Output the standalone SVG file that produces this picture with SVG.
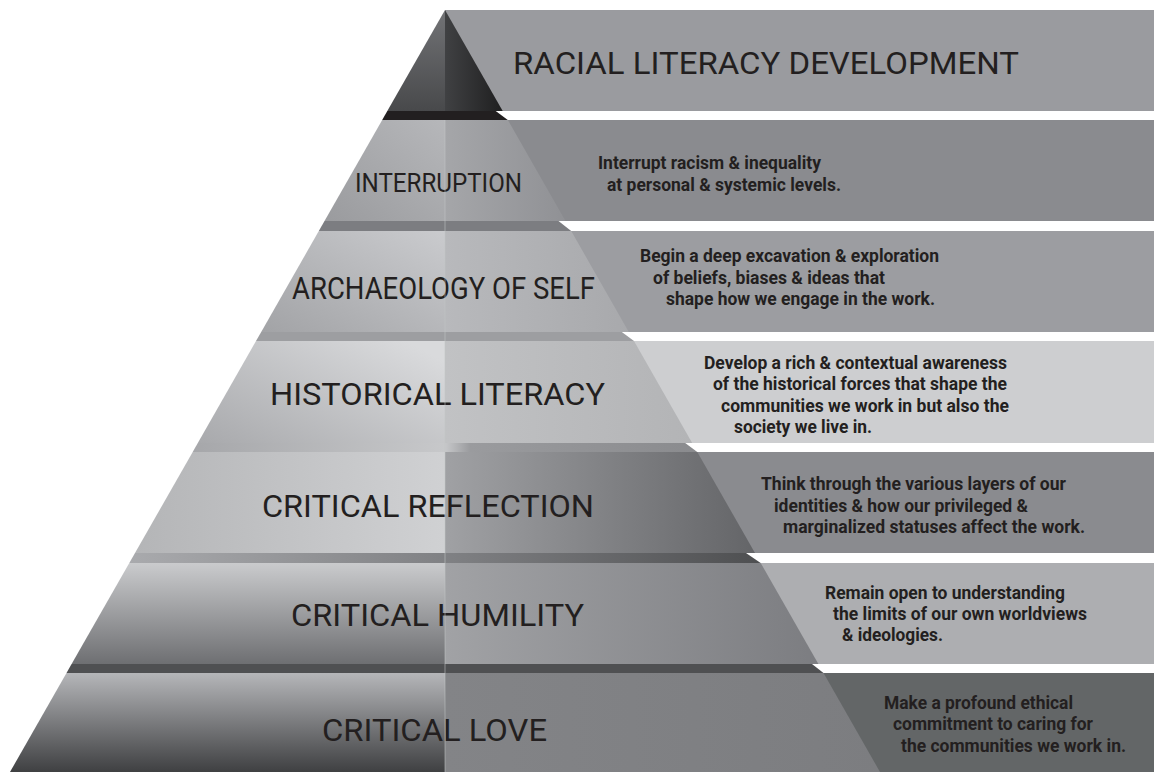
<svg xmlns="http://www.w3.org/2000/svg" width="1154" height="772" viewBox="0 0 1154 772">
<style>
.lbl{font-family:Roboto,"Liberation Sans",sans-serif;font-weight:400;fill:#231f20}
.dsc{font-family:Roboto,"Liberation Sans",sans-serif;font-weight:700;font-size:18px;fill:#231f20}
</style>
<defs>
<linearGradient id="tL" x1="0" y1="0" x2="0" y2="1"><stop offset="0" stop-color="#727376"/><stop offset="1" stop-color="#48494b"/></linearGradient>
<linearGradient id="tR" x1="0" y1="0" x2="1" y2="0"><stop offset="0" stop-color="#404143"/><stop offset="1" stop-color="#1f1f20"/></linearGradient>
<linearGradient id="b1L" x1="1" y1="0" x2="0" y2="1"><stop offset="0" stop-color="#b6b7ba"/><stop offset="1" stop-color="#9a9b9e"/></linearGradient>
<linearGradient id="b1R" x1="0" y1="0" x2="1" y2="0"><stop offset="0" stop-color="#a5a6a9"/><stop offset="1" stop-color="#909195"/></linearGradient>
<linearGradient id="b2L" x1="1" y1="0" x2="0" y2="1"><stop offset="0" stop-color="#cacbce"/><stop offset="1" stop-color="#a2a3a6"/></linearGradient>
<linearGradient id="b2R" x1="0" y1="0" x2="1" y2="0"><stop offset="0" stop-color="#b8b9bc"/><stop offset="1" stop-color="#a8a9ac"/></linearGradient>
<linearGradient id="b3L" x1="1" y1="0.2" x2="0" y2="1"><stop offset="0" stop-color="#d9dadc"/><stop offset="1" stop-color="#a8a9ac"/></linearGradient>
<linearGradient id="b3R" x1="0" y1="0" x2="1" y2="0"><stop offset="0" stop-color="#c1c2c4"/><stop offset="1" stop-color="#b3b4b6"/></linearGradient>
<linearGradient id="b4L" x1="1" y1="0" x2="0" y2="0"><stop offset="0" stop-color="#d0d1d3"/><stop offset="1" stop-color="#b4b5b7"/></linearGradient>
<linearGradient id="b4R" x1="0" y1="0" x2="1" y2="0"><stop offset="0" stop-color="#a0a1a4"/><stop offset="1" stop-color="#646568"/></linearGradient>
<linearGradient id="b5L" x1="0" y1="0" x2="0" y2="1"><stop offset="0" stop-color="#cacbcd"/><stop offset="1" stop-color="#6e6f72"/></linearGradient>
<linearGradient id="b5R" x1="0" y1="0" x2="1" y2="0"><stop offset="0" stop-color="#a1a2a5"/><stop offset="1" stop-color="#7c7d81"/></linearGradient>
<linearGradient id="b6L" x1="0" y1="0" x2="0" y2="1"><stop offset="0" stop-color="#b5b6b9"/><stop offset="1" stop-color="#3f4042"/></linearGradient>
<linearGradient id="b6R" x1="0" y1="0" x2="1" y2="0"><stop offset="0" stop-color="#838487"/><stop offset="1" stop-color="#7c7d80"/></linearGradient>
<linearGradient id="s4" x1="0" y1="0" x2="1" y2="0"><stop offset="0" stop-color="#a6a7aa"/><stop offset="0.5" stop-color="#c7c8ca"/><stop offset="0.55" stop-color="#9a9b9e"/><stop offset="1" stop-color="#8a8b8e"/></linearGradient>
<linearGradient id="s5" x1="0" y1="0" x2="1" y2="0"><stop offset="0" stop-color="#a9aaad"/><stop offset="0.5" stop-color="#808184"/><stop offset="1" stop-color="#4e4f51"/></linearGradient>
</defs>

<g id="title">
<rect x="445" y="10" width="709" height="101" fill="#9a9b9f"/>
<polygon points="445,10 445,111 387.3,111" fill="url(#tL)"/>
<polygon points="445,10 502.7,111 445,111" fill="url(#tR)"/>
<text class="lbl" x="513" y="74" font-size="31" textLength="506" lengthAdjust="spacingAndGlyphs">RACIAL LITERACY DEVELOPMENT</text>
</g>

<g id="interruption">
<rect x="445" y="120" width="709" height="101" fill="#8a8b8f"/>
<polygon points="387.3,111 495.7,111 507.8,120 382.2,120" fill="#221f20"/>
<polygon points="382.2,120 445,120 445,221 324.5,221" fill="url(#b1L)"/>
<polygon points="445,120 507.8,120 565.5,221 445,221" fill="url(#b1R)"/>
<text class="lbl" x="355" y="192" font-size="26" textLength="167" lengthAdjust="spacingAndGlyphs">INTERRUPTION</text>
<text class="dsc" x="598" y="169" textLength="223" lengthAdjust="spacingAndGlyphs">Interrupt racism &amp; inequality</text>
<text class="dsc" x="607" y="191" textLength="234" lengthAdjust="spacingAndGlyphs">at personal &amp; systemic levels.</text>
</g>

<g id="archaeology">
<rect x="445" y="231" width="709" height="101" fill="#9c9da1"/>
<polygon points="324.5,221 558.5,221 571.2,231 318.8,231" fill="#7c7d81"/>
<polygon points="318.8,231 445,231 445,332 261.2,332" fill="url(#b2L)"/>
<polygon points="445,231 571.2,231 628.8,332 445,332" fill="url(#b2R)"/>
<text class="lbl" x="292" y="299" font-size="31" textLength="303" lengthAdjust="spacingAndGlyphs">ARCHAEOLOGY OF SELF</text>
<text class="dsc" x="640" y="262" textLength="299" lengthAdjust="spacingAndGlyphs">Begin a deep excavation &amp; exploration</text>
<text class="dsc" x="653" y="284" textLength="232" lengthAdjust="spacingAndGlyphs">of beliefs, biases &amp; ideas that</text>
<text class="dsc" x="666" y="305" textLength="269" lengthAdjust="spacingAndGlyphs">shape how we engage in the work.</text>
</g>

<g id="historical">
<rect x="445" y="341" width="709" height="102" fill="#cdced0"/>
<polygon points="261.2,332 621.8,332 634,341 256,341" fill="#9d9ea1"/>
<polygon points="256,341 445,341 445,443 197.8,443" fill="url(#b3L)"/>
<polygon points="445,341 634,341 692.2,443 445,443" fill="url(#b3R)"/>
<text class="lbl" x="270" y="405" font-size="32" textLength="335" lengthAdjust="spacingAndGlyphs">HISTORICAL LITERACY</text>
<text class="dsc" x="704" y="369" textLength="303" lengthAdjust="spacingAndGlyphs">Develop a rich &amp; contextual awareness</text>
<text class="dsc" x="713" y="390" textLength="294" lengthAdjust="spacingAndGlyphs">of the historical forces that shape the</text>
<text class="dsc" x="721" y="412" textLength="288" lengthAdjust="spacingAndGlyphs">communities we work in but also the</text>
<text class="dsc" x="734" y="433" textLength="138" lengthAdjust="spacingAndGlyphs">society we live in.</text>
</g>

<g id="reflection">
<rect x="445" y="452" width="709" height="101" fill="#8a8b8f"/>
<polygon points="197.8,443 685.2,443 697.3,452 192.7,452" fill="url(#s4)"/>
<polygon points="192.7,452 445,452 445,553 135,553" fill="url(#b4L)"/>
<polygon points="445,452 697.3,452 755,553 445,553" fill="url(#b4R)"/>
<text class="lbl" x="262" y="517" font-size="32" textLength="332" lengthAdjust="spacingAndGlyphs">CRITICAL REFLECTION</text>
<text class="dsc" x="761" y="490" textLength="305" lengthAdjust="spacingAndGlyphs">Think through the various layers of our</text>
<text class="dsc" x="774" y="512" textLength="254" lengthAdjust="spacingAndGlyphs">identities &amp; how our privileged &amp;</text>
<text class="dsc" x="783" y="533" textLength="302" lengthAdjust="spacingAndGlyphs">marginalized statuses affect the work.</text>
</g>

<g id="humility">
<rect x="445" y="563" width="709" height="101" fill="#adaeb1"/>
<polygon points="135,553 746,553 760.7,563 129.3,563" fill="url(#s5)"/>
<polygon points="129.3,563 445,563 445,664 71.6,664" fill="url(#b5L)"/>
<polygon points="445,563 760.7,563 818.4,664 445,664" fill="url(#b5R)"/>
<text class="lbl" x="291" y="626" font-size="32" textLength="293" lengthAdjust="spacingAndGlyphs">CRITICAL HUMILITY</text>
<text class="dsc" x="825" y="599" textLength="240" lengthAdjust="spacingAndGlyphs">Remain open to understanding</text>
<text class="dsc" x="833" y="620" textLength="254" lengthAdjust="spacingAndGlyphs">the limits of our own worldviews</text>
<text class="dsc" x="842" y="641" textLength="101" lengthAdjust="spacingAndGlyphs">&amp; ideologies.</text>
</g>

<g id="love">
<rect x="445" y="673" width="709" height="99" fill="#636667"/>
<polygon points="71.6,664 812,664 823.5,673 66.5,673" fill="#4f5052"/>
<polygon points="66.5,673 445,673 445,772 10,772" fill="url(#b6L)"/>
<polygon points="445,673 823.5,673 880,772 445,772" fill="url(#b6R)"/>
<text class="lbl" x="322" y="741" font-size="32" textLength="225" lengthAdjust="spacingAndGlyphs">CRITICAL LOVE</text>
<text class="dsc" x="884" y="709" textLength="189" lengthAdjust="spacingAndGlyphs">Make a profound ethical</text>
<text class="dsc" x="893" y="730" textLength="200" lengthAdjust="spacingAndGlyphs">commitment to caring for</text>
<text class="dsc" x="901" y="752" textLength="225" lengthAdjust="spacingAndGlyphs">the communities we work in.</text>
</g>

<g id="connectors">
<line x1="445" y1="120" x2="445" y2="772" stroke="#c4c5c7" stroke-width="0.8" stroke-opacity="0.7"/>
</g>
</svg>
